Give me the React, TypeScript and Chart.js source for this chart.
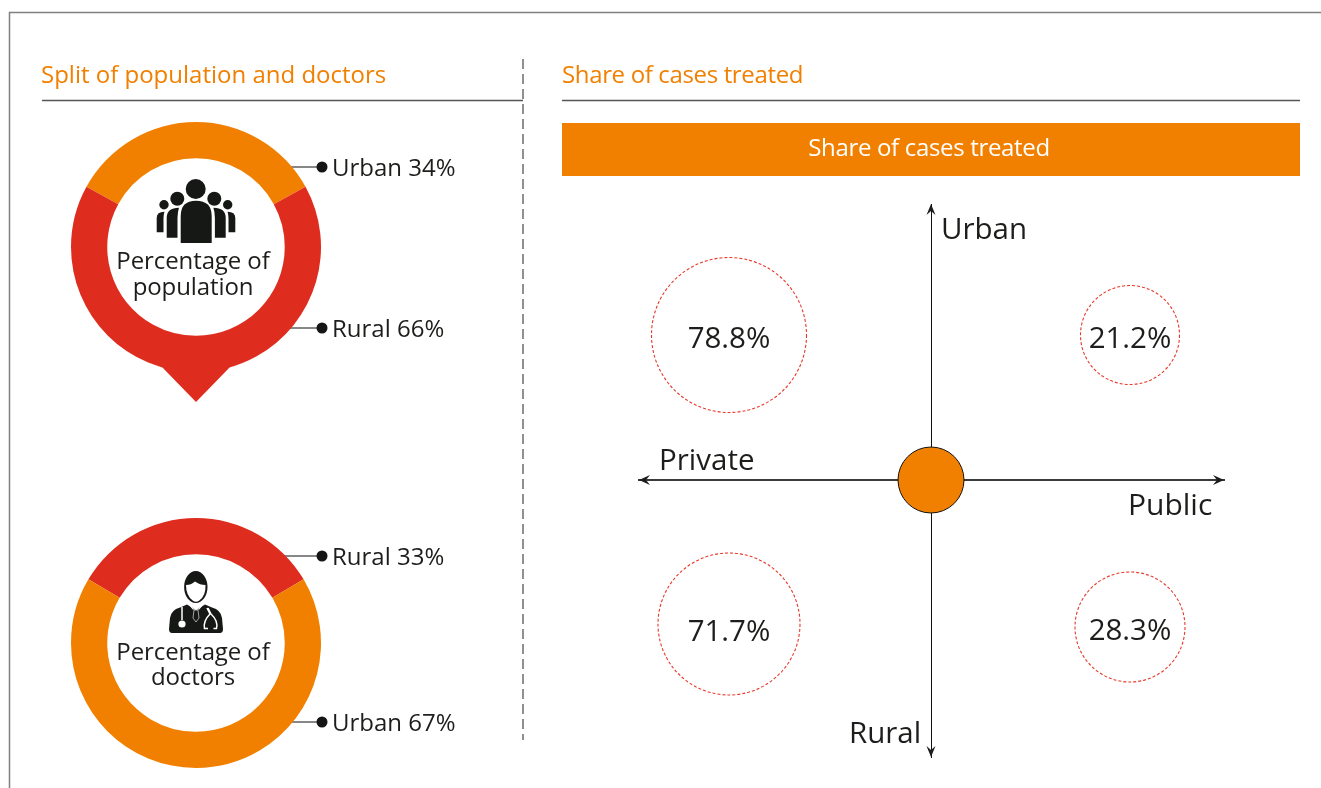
import React, { useEffect, useRef } from "react";
import { Chart, registerables } from "chart.js";

Chart.register(...registerables);

const ORANGE = "#F28000";
const RED = "#DE2D1E";
const INK = "#1D1D1B";
const FONT = "'Open Sans', sans-serif";

const populationLabels = ["Urban", "Rural"];
const populationValues = [34, 66];
const doctorLabels = ["Rural", "Urban"];
const doctorValues = [33, 67];

const caseLabels = ["78.8%", "21.2%", "71.7%", "28.3%"];
const caseX = [-202, 199, -202, 199];
const caseY = [145, 145, -144, -147];
const caseR = [77.5, 49.5, 71, 55];

const hubX = [0];
const hubY = [0];
const hubR = [33];

const pinPlugin = {
  id: "pin",
  afterDatasetsDraw(chart: any) {
    const arc = chart.getDatasetMeta(0).data[0];
    const ctx = chart.ctx;
    const { x, y, outerRadius } = arc;
    ctx.save();
    ctx.fillStyle = RED;
    ctx.beginPath();
    ctx.moveTo(x - 35, y + outerRadius * 0.96 - 1);
    ctx.lineTo(x, y + outerRadius + 30);
    ctx.lineTo(x + 35, y + outerRadius * 0.96 - 1);
    ctx.closePath();
    ctx.fill();
    ctx.restore();
  },
};

function Ring(props: { left: number; top: number; height: number; labels: string[]; values: number[]; colors: string[]; pin?: boolean }) {
  const ref = useRef<HTMLCanvasElement>(null);
  useEffect(() => {
    const first = props.values[0] / (props.values[0] + props.values[1]);
    const chart = new Chart(ref.current!, {
      type: "doughnut",
      data: {
        labels: props.labels,
        datasets: [{ data: props.values, backgroundColor: props.colors, borderWidth: 0 }],
      },
      options: {
        animation: false,
        responsive: false,
        cutout: "71%",
        rotation: -first * 180,
        layout: { padding: { bottom: props.height - 250 } },
        plugins: { legend: { display: false }, tooltip: { enabled: false } },
      },
      plugins: props.pin ? [pinPlugin] : [],
    } as any);
    return () => chart.destroy();
  }, []);
  return (
    <canvas
      ref={ref}
      width={250}
      height={props.height}
      style={{ position: "absolute", left: props.left, top: props.top, width: 250, height: props.height }}
    />
  );
}

const labelNudge = (i: number) => (i === 2 ? 17 : 13);

const quadrantPlugin = {
  id: "quadrant",
  beforeDatasetDraw(chart: any, args: any) {
    if (args.index === 0) chart.ctx.setLineDash([3, 2]);
  },
  afterDatasetDraw(chart: any, args: any) {
    if (args.index === 0) chart.ctx.setLineDash([]);
  },
  afterDatasetsDraw(chart: any) {
    const ctx = chart.ctx;
    const a = chart.chartArea;
    const cx = chart.scales.x.getPixelForValue(0);
    const cy = chart.scales.y.getPixelForValue(0);
    ctx.save();
    ctx.fillStyle = INK;
    const head = (pts: number[][]) => {
      ctx.beginPath();
      pts.forEach((p, i) => (i ? ctx.lineTo(p[0], p[1]) : ctx.moveTo(p[0], p[1])));
      ctx.closePath();
      ctx.fill();
    };
    head([[a.left, cy], [a.left + 11, cy - 5], [a.left + 7, cy], [a.left + 11, cy + 5]]);
    head([[a.right, cy], [a.right - 11, cy - 5], [a.right - 7, cy], [a.right - 11, cy + 5]]);
    head([[cx, a.top], [cx - 4.5, a.top + 11], [cx, a.top + 7], [cx + 4.5, a.top + 11]]);
    head([[cx, a.bottom], [cx - 4.5, a.bottom - 11], [cx, a.bottom - 7], [cx + 4.5, a.bottom - 11]]);
    ctx.font = `29.5px ${FONT}`;
    ctx.textAlign = "center";
    ctx.textBaseline = "alphabetic";
    chart.getDatasetMeta(0).data.forEach((el: any, i: number) => {
      ctx.fillText(caseLabels[i], el.x, el.y + labelNudge(i));
    });
    ctx.restore();
  },
};

function Quadrant() {
  const ref = useRef<HTMLCanvasElement>(null);
  useEffect(() => {
    const chart = new Chart(ref.current!, {
      type: "bubble",
      data: {
        datasets: [
          {
            data: caseX.map((x, i) => ({ x, y: caseY[i], r: caseR[i] })),
            backgroundColor: "rgba(0,0,0,0)",
            borderColor: "#E8392B",
            borderWidth: 1.1,
            clip: false,
          },
          {
            data: hubX.map((x, i) => ({ x, y: hubY[i], r: hubR[i] })),
            backgroundColor: ORANGE,
            borderColor: "#111111",
            borderWidth: 1,
            clip: false,
          },
        ],
      },
      options: {
        animation: false,
        responsive: false,
        layout: { autoPadding: false, padding: { left: 9, right: 10, top: 9, bottom: 10 } },
        plugins: { legend: { display: false }, tooltip: { enabled: false } },
        scales: {
          x: {
            type: "linear",
            min: -292,
            max: 293,
            position: { y: 0 },
            grid: { display: false, drawTicks: false },
            ticks: { display: false },
            border: { display: true, color: "#3A3A3A", width: 2 },
          },
          y: {
            type: "linear",
            min: -277,
            max: 276,
            position: { x: 0 },
            grid: { display: false, drawTicks: false },
            ticks: { display: false },
            border: { display: true, color: "#111111", width: 1 },
          },
        },
      },
      plugins: [quadrantPlugin],
    } as any);
    return () => chart.destroy();
  }, []);
  return (
    <canvas
      ref={ref}
      width={604}
      height={572}
      style={{ position: "absolute", left: 630, top: 195, width: 604, height: 572 }}
    />
  );
}

function Label(props: { x: number; y: number; size: number; color?: string; center?: boolean; spacing?: number; children: React.ReactNode }) {
  return (
    <div
      style={{
        position: "absolute",
        left: props.x,
        top: props.y,
        transform: props.center ? "translate(-50%,-50%)" : "translateY(-50%)",
        fontFamily: FONT,
        fontSize: props.size,
        letterSpacing: props.spacing ?? 0,
        lineHeight: 1,
        whiteSpace: "nowrap",
        color: props.color ?? INK,
      }}
    >
      {props.children}
    </div>
  );
}

const leaders = [
  { y: 167, ty: 167, from: 285, text: `${populationLabels[0]} ${populationValues[0]}%` },
  { y: 328, ty: 328, from: 285, text: `${populationLabels[1]} ${populationValues[1]}%` },
  { y: 556, ty: 556, from: 280, text: `${doctorLabels[0]} ${doctorValues[0]}%` },
  { y: 722, ty: 722, from: 285, text: `${doctorLabels[1]} ${doctorValues[1]}%` },
];

function Furniture() {
  return (
    <svg width={1321} height={788} style={{ position: "absolute", left: 0, top: 0 }}>
      <path d="M9.5 788 V12.5 H1321" fill="none" stroke="#808080" strokeWidth={1.5} />
      <line x1={42} x2={523} y1={100.5} y2={100.5} stroke="#555" strokeWidth={1.5} />
      <line x1={562} x2={1300} y1={100.5} y2={100.5} stroke="#555" strokeWidth={1.5} />
      <line x1={523} x2={523} y1={59} y2={740} stroke="#555" strokeWidth={1.3} strokeDasharray="10 5" />
      {leaders.map((l) => (
        <g key={l.y}>
          <line x1={l.from} x2={322} y1={l.y} y2={l.y} stroke="#111" strokeWidth={1} />
          <circle cx={322} cy={l.y} r={5.5} fill="#151515" />
        </g>
      ))}
    </svg>
  );
}

function Icons() {
  return (
    <svg width={1321} height={788} style={{ position: "absolute", left: 0, top: 0 }}>
      <g fill="#161816">
        <circle cx={195.7} cy={189} r={10} />
        <path d="M180.7 243 V216 Q180.7 200.7 196 200.7 Q211.7 200.7 211.7 216 V243 Z" />
        <circle cx={177.3} cy={198.7} r={7} />
        <circle cx={214.3} cy={198.7} r={7} />
        <path d="M166.7 237.7 V218 Q166.7 207.7 179 207.7 Q177.5 212 177.5 218 V237.7 Z" />
        <path d="M225.7 237.7 V218 Q225.7 207.7 213.4 207.7 Q214.9 212 214.9 218 V237.7 Z" />
        <circle cx={164} cy={204.7} r={4.7} />
        <circle cx={227.7} cy={204.7} r={4.7} />
        <path d="M156.7 232.3 V218 Q156.7 211.7 164.5 211.7 Q163.5 214 163.5 218 V232.3 Z" />
        <path d="M235.3 232.3 V218 Q235.3 211.7 227.5 211.7 Q228.5 214 228.5 218 V232.3 Z" />
      </g>
      <g>
        <path
          d="M169 629 L170 618 Q171 610 180 607.5 L187 604.5 L196 610 L205 604.5 L212 607.5 Q221 610 222 618 L223 629 Q223 633 220 633 L172 633 Q169 633 169 629 Z"
          fill="#161816"
        />
        <path d="M190 605.5 L193 609 L199 609 L202 605.5" stroke="#fff" strokeWidth={1.1} fill="none" />
        <path d="M194 610 H198 L199 618 L196 622 L193 618 Z" fill="#161816" stroke="#fff" strokeWidth={0.6} />
        <line x1={182} x2={182} y1={607} y2={620} stroke="#fff" strokeWidth={1.5} />
        <circle cx={182} cy={624} r={3.6} fill="#fff" />
        <path d="M207 608 L210 614 Q203 621 204.5 628.5 L208 628.5 M208 608 L211 614 Q218.5 621 216.5 628.5 L213.5 628.5" stroke="#fff" strokeWidth={1.5} fill="none" />
        <ellipse cx={195.8} cy={587} rx={11.7} ry={16} fill="#161816" />
        <path d="M186 585 Q191 585 195 581.5 Q200 585 205.5 585 Q206 596 199 600.8 Q196 602.5 193 600.8 Q186 596 186 585 Z" fill="#fff" />
      </g>
    </svg>
  );
}

export default function App() {
  return (
    <div style={{ position: "fixed", left: 0, top: 0, width: 1321, height: 788, background: "#fff", overflow: "hidden" }}>
      <Furniture />
      <Ring left={71} top={122} height={285} labels={populationLabels} values={populationValues} colors={[ORANGE, RED]} pin />
      <Ring left={71} top={518} height={250} labels={doctorLabels} values={doctorValues} colors={[RED, ORANGE]} />
      <Icons />

      <Label x={41} y={74} size={24} color={ORANGE}>Split of population and doctors</Label>
      <Label x={562} y={74} size={24} color={ORANGE} spacing={-0.35}>Share of cases treated</Label>

      <div style={{ position: "absolute", left: 562, top: 123, width: 738, height: 53, background: ORANGE }} />
      <Label x={929} y={147} size={24} color="#FFFFFF" center spacing={-0.33}>Share of cases treated</Label>

      <Label x={193} y={260} size={24} center spacing={-0.1}>Percentage of</Label>
      <Label x={193} y={286} size={24} center spacing={-0.1}>population</Label>
      <Label x={193} y={651} size={24} center spacing={-0.1}>Percentage of</Label>
      <Label x={193} y={676} size={24} center spacing={-0.1}>doctors</Label>

      {leaders.map((l) => (
        <Label key={l.y} x={332} y={l.ty} size={24}>{l.text}</Label>
      ))}

      <Quadrant />
      <Label x={941} y={228} size={29.5}>Urban</Label>
      <Label x={659} y={459} size={29.5}>Private</Label>
      <Label x={1128} y={504} size={30}>Public</Label>
      <Label x={849} y={732} size={29.5}>Rural</Label>
    </div>
  );
}
